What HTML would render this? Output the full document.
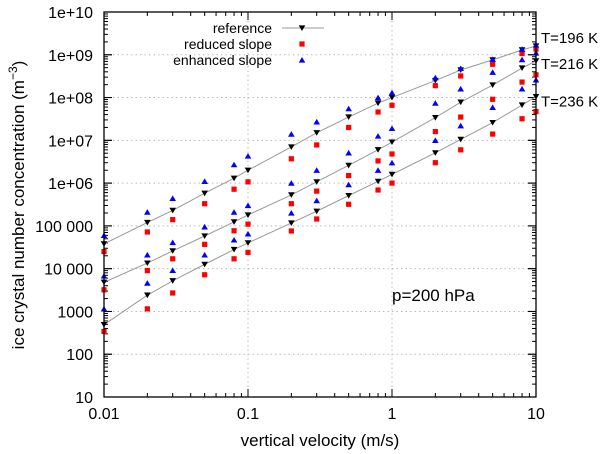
<!DOCTYPE html>
<html><head><meta charset="utf-8"><style>
html,body{margin:0;padding:0;background:#fff;}
svg{display:block;font-family:"Liberation Sans",sans-serif;}
</style></head><body>
<svg id="chart" width="600" height="454" viewBox="0 0 600 454" xmlns="http://www.w3.org/2000/svg"></svg>
<script>
const velocities=[0.01,0.02,0.03,0.05,0.08,0.1,0.2,0.3,0.5,0.8,1,2,3,5,8,10];
const ref196=[3.8e4,1.2e5,2.3e5,5.8e5,1.3e6,2e6,7e6,1.5e7,3.5e7,7.4e7,1e8,2.5e8,4.4e8,7.6e8,1.3e9,1.6e9];
const red196=[2.5e4,7.2e4,1.4e5,3.3e5,7.2e5,1.07e6,3.7e6,7.8e6,2e7,4.6e7,6.6e7,1.9e8,3.2e8,6e8,1.07e9,1.35e9];
const enh196=[6e4,2.1e5,4.4e5,1.1e6,2.7e6,4.3e6,1.4e7,2.7e7,5.5e7,1e8,1.3e8,2.9e8,4.8e8,7.8e8,1.35e9,1.7e9];
const ref216=[4.8e3,1.35e4,2.6e4,5.8e4,1.24e5,1.8e5,5.3e5,1.07e6,2.6e6,6e6,9.1e6,3.4e7,7.8e7,1.96e8,4.9e8,7.2e8];
const red216=[3.2e3,9e3,1.7e4,3.7e4,7.7e4,1.1e5,3.3e5,6.5e5,1.5e6,3.3e6,4.8e6,1.6e7,3.5e7,9.1e7,2.3e8,3.4e8];
const enh216=[6.8e3,2.1e4,4.1e4,9.5e4,2.1e5,3e5,1e6,2e6,5.1e6,1.26e7,1.9e7,7.4e7,1.6e8,3.9e8,7.7e8,1.1e9];
const ref236=[490,2.4e3,5.2e3,1.26e4,2.8e4,4e4,1.17e5,2.2e5,5.1e5,1.1e6,1.6e6,5.1e6,1.05e7,2.6e7,6.7e7,1.05e8];
const red236=[340,1.15e3,2.7e3,7.2e3,1.7e4,2.4e4,7.6e4,1.45e5,3.2e5,6.9e5,1e6,3e6,6e6,1.4e7,3.2e7,4.7e7];
const enh236=[1.15e3,4.6e3,9.1e3,2.1e4,4.7e4,6.5e4,2e5,3.9e5,9.2e5,2e6,3e6,1e7,2.2e7,5.9e7,1.6e8,2.6e8];
const xTickValues=[0.01,0.1,1,10];
const xTickLabels=["0.01","0.1","1","10"];
const yTickValues=[10,100,1000,1e4,1e5,1e6,1e7,1e8,1e9,1e10];
const yTickLabels=["10","100","1000","10 000","100 000","1e+06","1e+07","1e+08","1e+09","1e+10"];
const curveLabels=["T=196 K","T=216 K","T=236 K"];

const L=104,R=536,T=12,B=397;
const X=v=>L+(Math.log10(v)+2)/3*(R-L);
const Y=v=>B-(Math.log10(v)-1)/9*(B-T);
const svg=document.getElementById('chart');
const NS='http://www.w3.org/2000/svg';
function mk(tag,attrs,parent){const e=document.createElementNS(NS,tag);for(const k in attrs)e.setAttribute(k,attrs[k]);(parent||svg).appendChild(e);return e;}

const grid=mk('g',{});


xTickValues.forEach(v=>{if(v>0.01&&v<10)mk('line',{x1:X(v),x2:X(v),y1:T,y2:B,stroke:'#bbb','stroke-dasharray':'1.5,3','stroke-width':1},grid);});
yTickValues.forEach(v=>{if(v>10&&v<1e10)mk('line',{x1:L,x2:R,y1:Y(v),y2:Y(v),stroke:'#bbb','stroke-dasharray':'1.5,3','stroke-width':1},grid);});

const ticks=mk('g',{stroke:'#000','stroke-width':1});


for(let d=-2;d<1;d++)for(let m=1;m<=10;m++){const v=m*Math.pow(10,d);const x=X(v);const len=(m===1||m===10)?8:4;
 mk('line',{x1:x,x2:x,y1:B,y2:B-len},ticks);mk('line',{x1:x,x2:x,y1:T,y2:T+len},ticks);}
for(let d=1;d<10;d++)for(let m=1;m<=10;m++){const v=m*Math.pow(10,d);const y=Y(v);const len=(m===1||m===10)?8:4;
 mk('line',{x1:L,x2:L+len,y1:y,y2:y},ticks);mk('line',{x1:R,x2:R-len,y1:y,y2:y},ticks);}

xTickValues.forEach((v,i)=>{const t=mk('text',{x:X(v),y:B+22,'text-anchor':'middle','font-size':16});t.textContent=xTickLabels[i];
 });
yTickValues.forEach((v,i)=>{const t=mk('text',{x:L-11,y:Y(v)+6,'text-anchor':'end','font-size':16});t.textContent=yTickLabels[i];
 });

function line(vals,name){const p=mk('polyline',{points:vals.map((v,i)=>X(velocities[i])+','+Y(v)).join(' '),fill:'none',stroke:'#999','stroke-width':1});
 }
function tri(x,y,g,down,col){const s=3.3;mk('polygon',{points:down?`${x-s},${y-s*0.8} ${x+s},${y-s*0.8} ${x},${y+s*0.9}`:`${x-s},${y+s*0.8} ${x+s},${y+s*0.8} ${x},${y-s*0.9}`,fill:col},g);}
function pts(vals,kind,name){const g=mk('g',{});
 vals.forEach((v,i)=>{const x=X(velocities[i]),y=Y(v);
  if(kind==='ref')tri(x,y,g,true,'#000');
  else if(kind==='red')mk('rect',{x:x-2.6,y:y-2.6,width:5.2,height:5.2,fill:'#f00'},g);
  else tri(x,y,g,false,'#00f');});}
[[ref196,red196,enh196,'196'],[ref216,red216,enh216,'216'],[ref236,red236,enh236,'236']].forEach(s=>{
 line(s[0],'reference-line-'+s[3]);pts(s[0],'ref','reference-points-'+s[3]);pts(s[1],'red','reduced-slope-points-'+s[3]);pts(s[2],'enh','enhanced-slope-points-'+s[3]);});

const fr=mk('rect',{x:L,y:T,width:R-L,height:B-T,fill:'none',stroke:'#000','stroke-width':1.3});


[ref196,ref216,ref236].forEach((arr,i)=>{const t=mk('text',{x:R+5,y:Y(arr[arr.length-1])-[8,-3,-5][i]+5,'font-size':15});t.textContent=curveLabels[i];
 });

const lg=mk('g',{});
const names=['reference','reduced slope','enhanced slope'];
names.forEach((n,i)=>{const y=28+i*16;const t=mk('text',{x:272,y:y+5,'text-anchor':'end','font-size':14},lg);t.textContent=n;
 
 if(i===0){mk('line',{x1:282,x2:324,y1:y,y2:y,stroke:'#999'},lg);tri(302,y,lg,true,'#000');}
 else if(i===1)mk('rect',{x:299.4,y:y-2.6,width:5.2,height:5.2,fill:'#f00'},lg);
 else tri(302,y,lg,false,'#00f');});

const an=mk('text',{x:392,y:301,'font-size':17});an.textContent='p=200 hPa';

const xt=mk('text',{x:320,y:446,'text-anchor':'middle','font-size':17});xt.textContent='vertical velocity (m/s)';

const yt=mk('text',{x:0,y:0,'text-anchor':'middle','font-size':17,transform:'translate(24,205) rotate(-90)'});
yt.innerHTML='ice crystal number concentration (m<tspan dy="-7" font-size="12">−3</tspan><tspan dy="7">)</tspan>';

</script>
</body></html>
